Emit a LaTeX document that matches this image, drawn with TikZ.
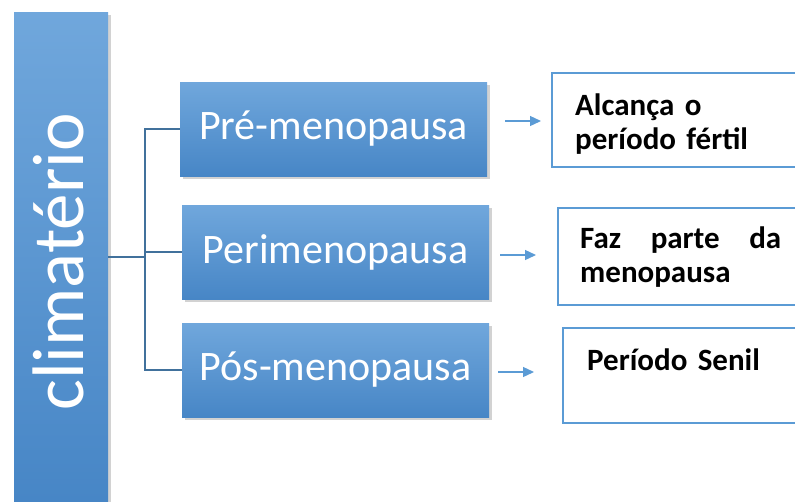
\documentclass[tikz,border=0pt]{standalone}
\usepackage{fontspec}
\setmainfont{Carlito}
\usetikzlibrary{shadows,arrows.meta}
\definecolor{bluetop}{HTML}{70A7DC}
\definecolor{bluebot}{HTML}{4786C6}
\definecolor{connblue}{HTML}{41719C}
\definecolor{accent}{HTML}{5B9BD5}
\begin{document}
\begin{tikzpicture}[x=1pt,y=-1pt,
  bluebox/.style={draw=none, top color=bluetop, bottom color=bluebot,
    drop shadow={shadow xshift=3pt, shadow yshift=-3pt, opacity=0.35},
    inner sep=0pt, minimum width=307pt, minimum height=94pt,
    font=\fontsize{42}{50}\selectfont, text=white},
  sidebox/.style={draw=none, top color=bluetop, bottom color=bluebot,
    drop shadow={shadow xshift=3pt, shadow yshift=-3pt, opacity=0.35},
    inner sep=0pt, minimum width=94pt, minimum height=489pt},
  sidetext/.style={rotate=90, anchor=base, inner sep=0pt, text=white,
    font=\fontsize{73}{80}\selectfont},
  outbox/.style={draw=accent, line width=1.8pt, fill=white},
  outtext/.style={anchor=base west, inner sep=0pt, align=left, text width=201pt,
    font=\fontsize{31}{34.5}\bfseries\selectfont},
  connline/.style={draw=connblue, line width=2pt},
  smallarrow/.style={draw=accent, line width=1.3pt, -{Triangle[length=11pt,width=10pt]}}
]
\useasboundingbox (0,0) rectangle (795,501);
\fill[white] (0,0) rectangle (795,501);

% left box
\node[sidebox] (climat) at (61,256.5) {};
\node[sidetext] (climtext) at (83,262) {climatério};

% middle boxes
\node[bluebox] (pre) at (333.5,129) {Pré-menopausa};
\node[bluebox] (peri) at (335.5,252) {Perimenopausa};
\node[bluebox] (pos) at (335.5,370) {Pós-menopausa};

% connectors
\coordinate (jx) at (145,258);
\draw[connline] (climat.east) -- (jx |- climat.east);
\draw[connline] (pre.west) -| (jx) |- (pos.west);
\draw[connline] (peri.west) -- (jx |- peri.west);

% right boxes
\draw[outbox] (552,73) rectangle (800,167);
\draw[outbox] (558,208) rectangle (800,305);
\draw[outbox] (563,328) rectangle (800,423);

\begin{scope}
\clip (553,74) rectangle (795,156);
\node[outtext] (ta) at (575,115) {Alcança o\\período fértil};
\end{scope}
\node[outtext] (tb) at (580,248) {Faz\hfill parte\hfill da\\menopausa};
\node[outtext] (tc) at (587,370) {Período Senil};

% arrows
\coordinate (a1s) at (505,121);
\coordinate (a1e) at (541,121);
\coordinate (a2s) at (500,255);
\coordinate (a2e) at (536,255);
\coordinate (a3s) at (498,372);
\coordinate (a3e) at (534,372);
\draw[smallarrow] (a1s) -- (a1e);
\draw[smallarrow] (a2s) -- (a2e);
\draw[smallarrow] (a3s) -- (a3e);
\end{tikzpicture}
\end{document}
